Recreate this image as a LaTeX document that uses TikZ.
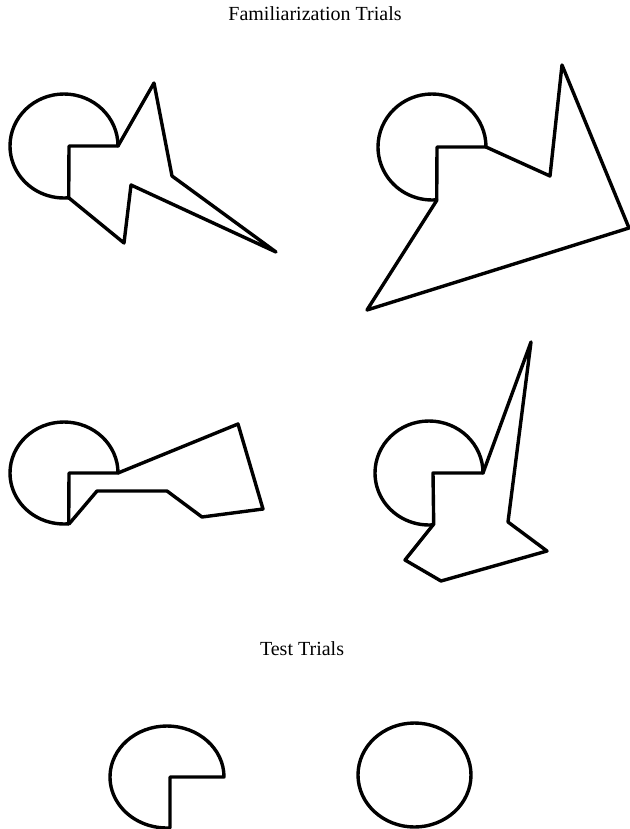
\documentclass[tikz,border=0pt]{standalone}
\usepackage{fontspec}
\setmainfont{Liberation Serif}
\tikzset{
  outline/.style={line width=3.4bp, line join=round, line cap=round},
  heading/.style={anchor=base, inner sep=0pt, font=\fontsize{20bp}{24bp}\selectfont}
}
\begin{document}
\begin{tikzpicture}[x=1bp,y=-1bp]
  \useasboundingbox (0,0) rectangle (630,829);
  % Headings
  \node[heading] (famtitle) at (315,20) {Familiarization Trials};
  \node[heading] (testtitle) at (302,655) {Test Trials};
  % Familiarization: top left
  \draw[outline] (69,146) -- (118,146) arc[start angle=0,end angle=-275,x radius=54,y radius=52] -- cycle;
  \draw[outline] (118,146) -- (154,83) -- (172,176) -- (276,252) -- (131,185) -- (124,243) -- (69,198);
  % Familiarization: top right
  \draw[outline] (437,147) -- (486,147) arc[start angle=0,end angle=-275,x radius=54,y radius=53] -- cycle;
  \draw[outline] (486,147) -- (550,176) -- (562,65) -- (629,228) -- (367,310) -- (437,200);
  % Familiarization: bottom left
  \draw[outline] (69,473) -- (118,473) arc[start angle=0,end angle=-275,x radius=54,y radius=51] -- cycle;
  \draw[outline] (118,473) -- (238,424) -- (263,509) -- (202,517) -- (167,491) -- (97,491) -- (69,524);
  % Familiarization: bottom right
  \draw[outline] (433,473) -- (483,473) arc[start angle=0,end angle=-275,x radius=54,y radius=52] -- cycle;
  \draw[outline] (483,473) -- (531,342) -- (508,522) -- (547,551) -- (441,581) -- (405,560) -- (433,525);
  % Test trials
  \draw[outline] (170,777) -- (224,777) arc[start angle=0,end angle=-273,x radius=57,y radius=51] -- cycle;
  \draw[outline] (414.5,775) ellipse[x radius=56.5,y radius=52];
\end{tikzpicture}
\end{document}
